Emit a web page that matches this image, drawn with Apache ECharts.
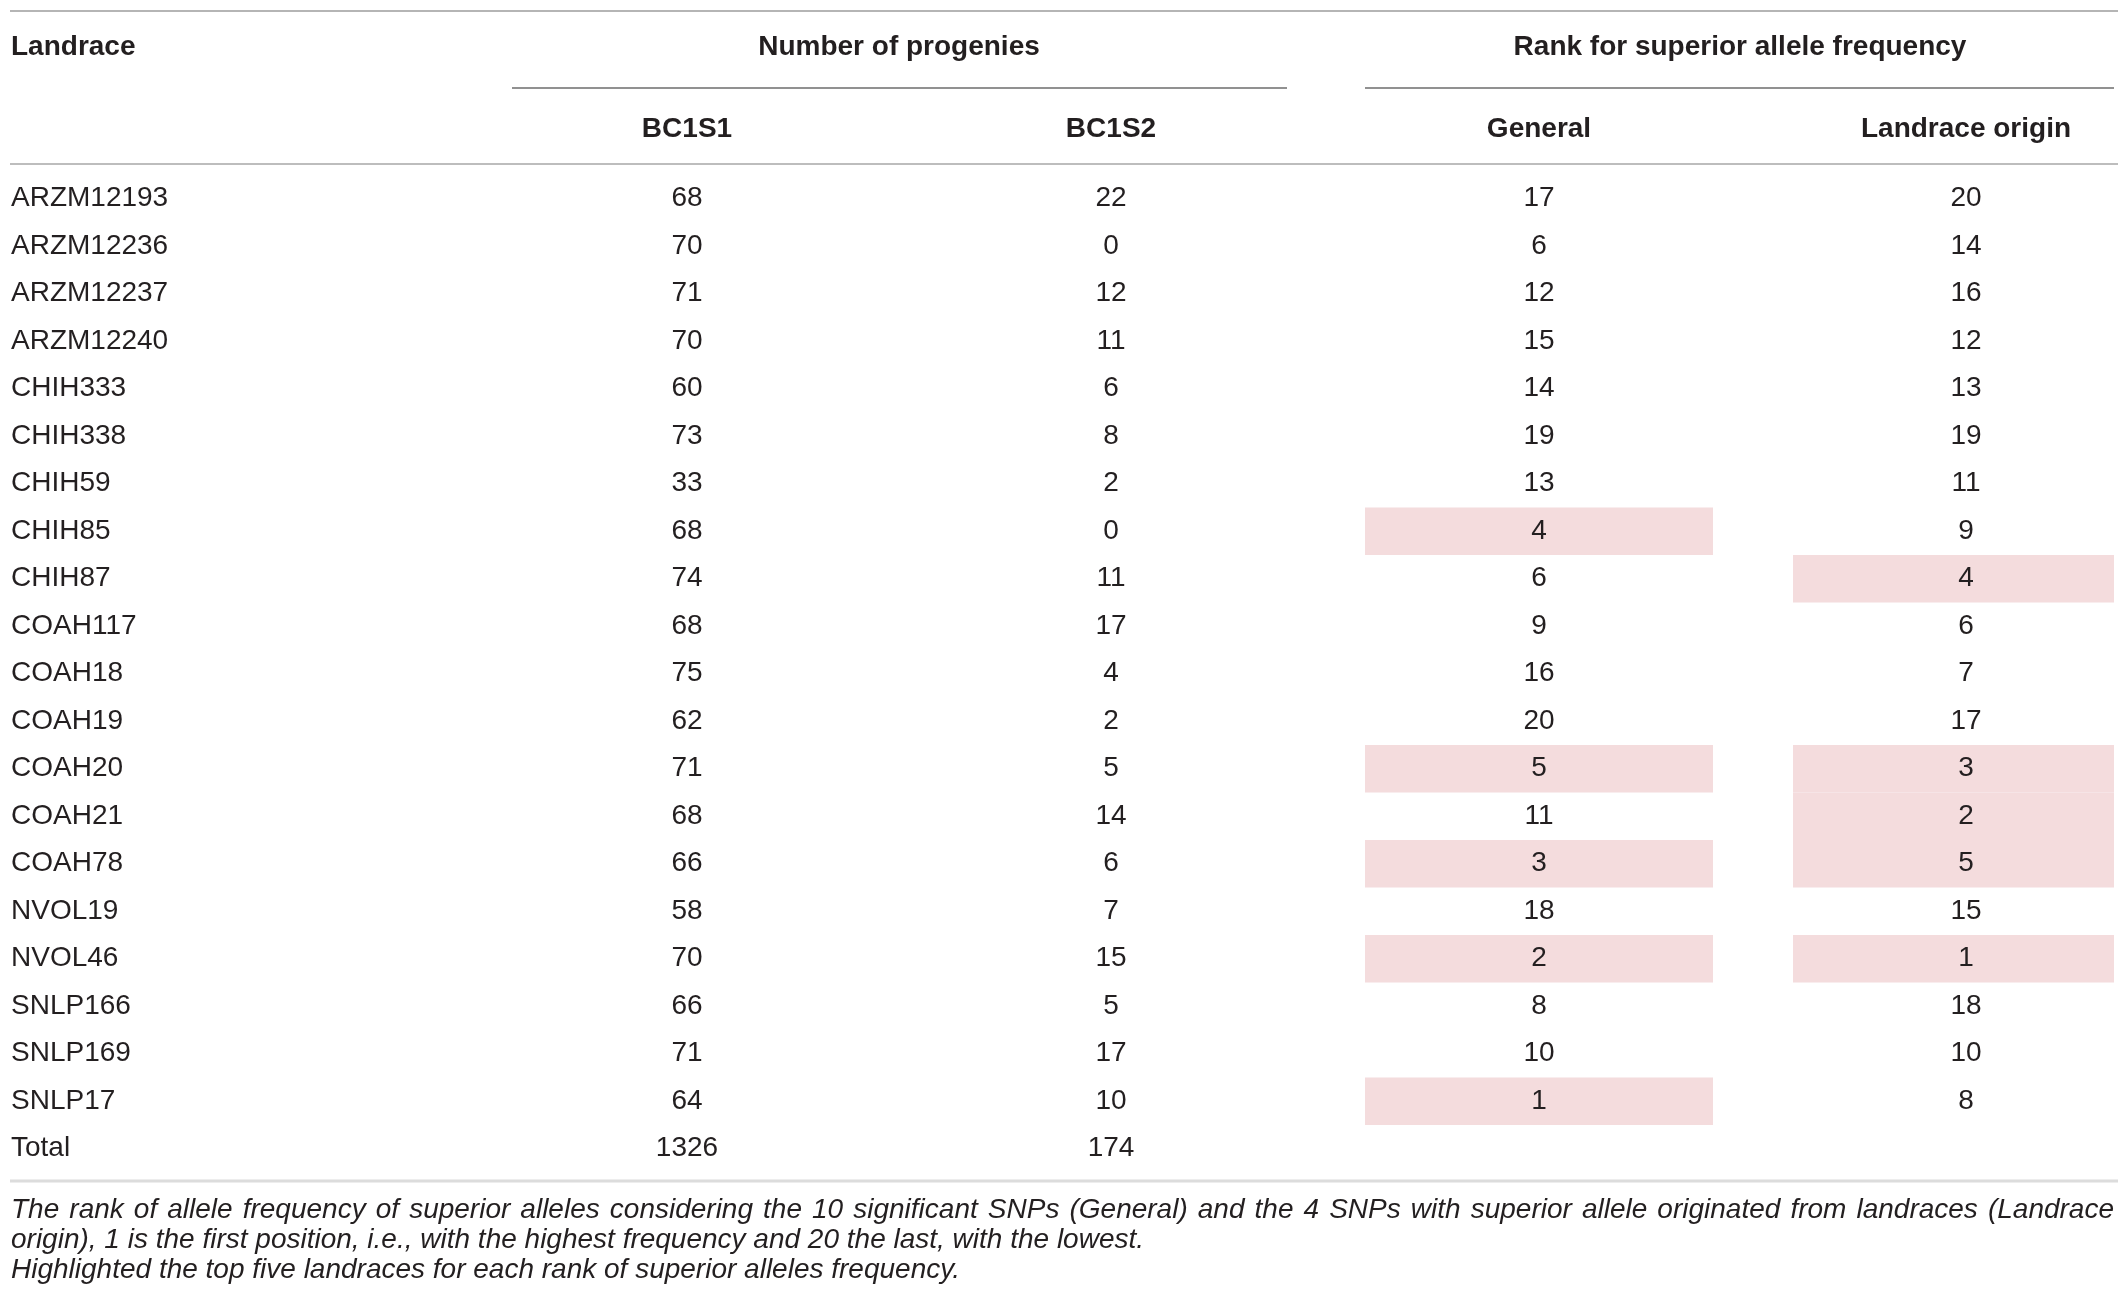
<!DOCTYPE html>
<html>
<head>
<meta charset="utf-8">
<script src="https://cdn.jsdelivr.net/npm/echarts@6/dist/echarts.min.js"></script>
<style>
html, body { margin: 0; padding: 0; background: #fff; }
#main { width: 2128px; height: 1310px; }
</style>
</head>
<body>
<div id="main"></div>
<script>
// table data
var landraces = ['ARZM12193', 'ARZM12236', 'ARZM12237', 'ARZM12240', 'CHIH333', 'CHIH338', 'CHIH59',
    'CHIH85', 'CHIH87', 'COAH117', 'COAH18', 'COAH19', 'COAH20', 'COAH21', 'COAH78', 'NVOL19',
    'NVOL46', 'SNLP166', 'SNLP169', 'SNLP17']
var bc1s1 = [68, 70, 71, 70, 60, 73, 33, 68, 74, 68, 75, 62, 71, 68, 66, 58, 70, 66, 71, 64]
var bc1s2 = [22, 0, 12, 11, 6, 8, 2, 0, 11, 17, 4, 2, 5, 14, 6, 7, 15, 5, 17, 10]
var rankGeneral = [17, 6, 12, 15, 14, 19, 13, 4, 6, 9, 16, 20, 5, 11, 3, 18, 2, 8, 10, 1]
var rankOrigin = [20, 14, 16, 12, 13, 19, 11, 9, 4, 6, 7, 17, 3, 2, 5, 15, 1, 18, 10, 8]
var totalRow = ['Total', 1326, 174]
var topN = 5

var rows = landraces.concat([totalRow[0]])

var caption = [
    'The rank of allele frequency of superior alleles considering the 10 significant SNPs (General) and the 4 SNPs with superior allele originated from landraces (Landrace',
    'origin), 1 is the first position, i.e., with the highest frequency and 20 the last, with the lowest.',
    'Highlighted the top five landraces for each rank of superior alleles frequency.'
]

// layout
var FONT = 'Liberation Sans'
var INK = '#231f20'
var colX = [11, 687, 1111, 1539, 1966]
var cellBand = { 3: [1365, 1713], 4: [1793, 2114] }
var bodyTop = 175, rowH = 47.5
var capLeft = 11, capRight = 2114, capFont = 'italic 28px "' + FONT + '"'

// build cells
var cellText = [], cellData = []
rows.forEach(function (name, i) {
    var vals = i < landraces.length
        ? [name, bc1s1[i], bc1s2[i], rankGeneral[i], rankOrigin[i]]
        : totalRow
    vals.forEach(function (v, c) {
        cellData.push([c, i])
        cellText.push(String(v))
    })
})
var hiData = []
landraces.forEach(function (n, i) {
    if (rankGeneral[i] <= topN) hiData.push([3, i])
    if (rankOrigin[i] <= topN) hiData.push([4, i])
})

var myChart = echarts.init(document.getElementById('main'))

function hline(x1, x2, y, color, w) {
    return { type: 'line', shape: { x1: x1, y1: y, x2: x2, y2: y }, style: { stroke: color, lineWidth: w }, silent: true }
}
function htext(text, x, y, align, bold) {
    return {
        type: 'text', x: x, y: y,
        style: { text: text, fill: INK, font: (bold ? 'bold ' : '') + '28px "' + FONT + '"', textAlign: align, textVerticalAlign: 'middle' }
    }
}
function ctext(text, x, y) {
    return {
        type: 'text', x: x, y: y,
        style: { text: text, fill: INK, font: capFont, textAlign: 'left', textVerticalAlign: 'middle' }
    }
}
// justified caption line: spread words over the full width
function justified(text, y) {
    var ctx = document.createElement('canvas').getContext('2d')
    ctx.font = capFont
    var words = text.split(' ')
    var widths = words.map(function (w) { return ctx.measureText(w).width })
    var sum = widths.reduce(function (a, b) { return a + b }, 0)
    var gap = (capRight - capLeft - sum) / (words.length - 1)
    var x = capLeft, out = []
    words.forEach(function (w, k) {
        out.push(ctext(w, x, y))
        x += widths[k] + gap
    })
    return out
}

var graphics = [
    hline(10, 2118, 11, '#b5b5b5', 2),
    htext('Landrace', 11, 47, 'left', true),
    htext('Number of progenies', 899, 47, 'center', true),
    htext('Rank for superior allele frequency', 1740, 47, 'center', true),
    hline(512, 1287, 88, '#6d6d6d', 1.5),
    hline(1365, 2114, 88, '#6d6d6d', 1.5),
    htext('BC1S1', 687, 129, 'center', true),
    htext('BC1S2', 1111, 129, 'center', true),
    htext('General', 1539, 129, 'center', true),
    htext('Landrace origin', 1966, 129, 'center', true),
    hline(10, 2118, 164, '#bdbdbd', 2),
    hline(10, 2118, 1181, '#dcdcdc', 3)
]
graphics = graphics.concat(justified(caption[0], 1210))
graphics.push(ctext(caption[1], capLeft, 1240))
graphics.push(ctext(caption[2], capLeft, 1270))

var option = {
    animation: false,
    backgroundColor: '#fff',
    grid: { left: 0, right: 0, top: bodyTop, height: rowH * rows.length },
    xAxis: { type: 'value', min: 0, max: 2128, show: false },
    yAxis: { type: 'category', data: rows, inverse: true, show: false },
    series: [
        {
            name: 'highlight',
            type: 'custom',
            data: hiData,
            renderItem: function (params, api) {
                var band = cellBand[api.value(0)]
                var p0 = api.coord([band[0], api.value(1)])
                var p1 = api.coord([band[1], api.value(1)])
                var h = api.size([0, 1])[1]
                return {
                    type: 'rect',
                    shape: { x: p0[0], y: p0[1] - h / 2, width: p1[0] - p0[0], height: h },
                    style: { fill: '#f4dcdd' }
                }
            }
        },
        {
            name: 'cells',
            type: 'custom',
            data: cellData,
            z: 5,
            renderItem: function (params, api) {
                var c = api.value(0)
                var p = api.coord([colX[c], api.value(1)])
                return {
                    type: 'text',
                    x: p[0], y: p[1],
                    style: {
                        text: cellText[params.dataIndex],
                        fill: INK,
                        font: '28px "' + FONT + '"',
                        textAlign: c === 0 ? 'left' : 'center',
                        textVerticalAlign: 'middle'
                    }
                }
            }
        }
    ],
    graphic: graphics
}

myChart.setOption(option)
</script>
</body>
</html>
